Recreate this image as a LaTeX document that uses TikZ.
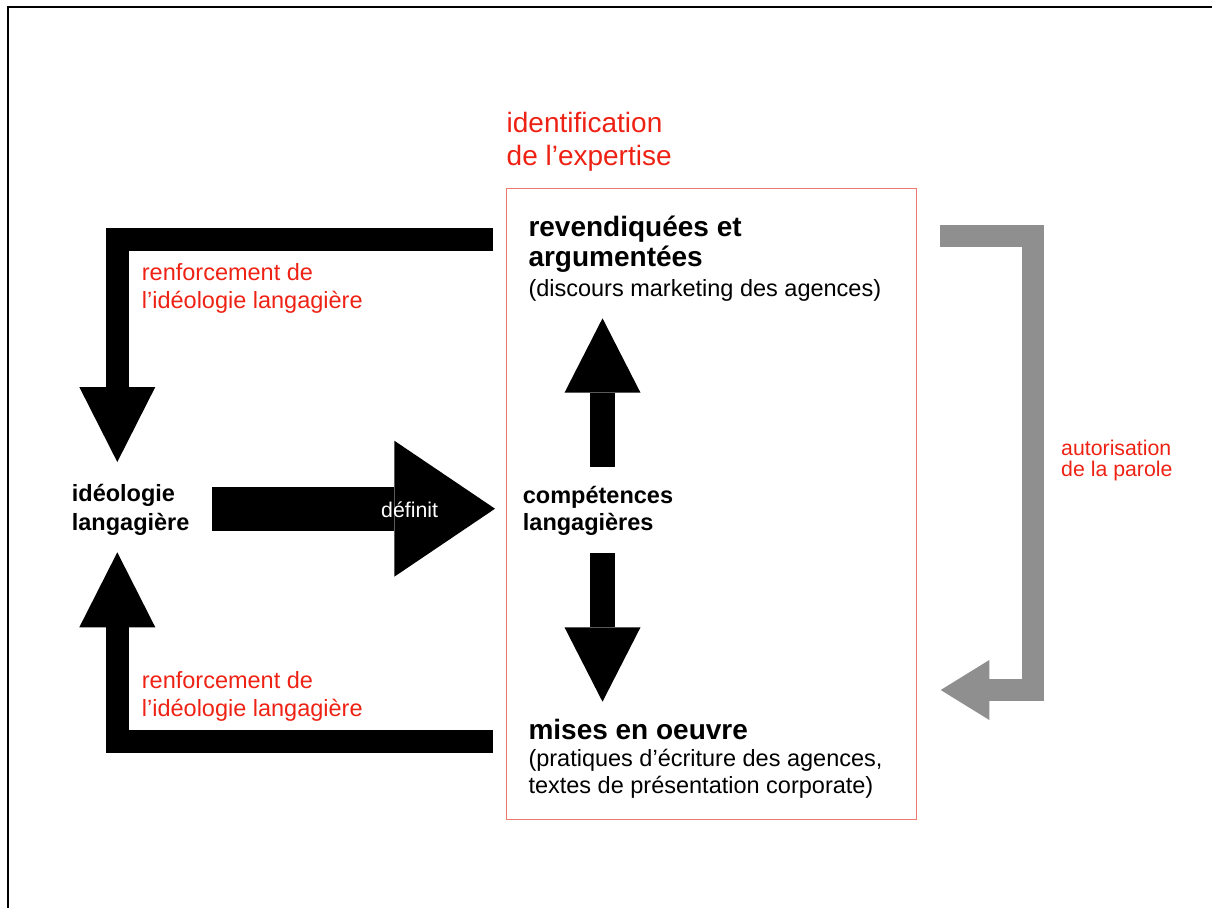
\documentclass[tikz,border=0pt]{standalone}
\usepackage{fontspec}
\setmainfont{Liberation Sans}
\usetikzlibrary{arrows.meta}
\definecolor{redtxt}{RGB}{238,34,20}
\definecolor{boxred}{RGB}{240,120,110}
\definecolor{grayarr}{RGB}{143,143,143}
\newcommand\vlines[2]{\vtop{\baselineskip=#1\lineskiplimit=-100pt\lineskip=0pt #2}}
\tikzset{
  lbl/.style={inner sep=0pt, anchor=base west},
  redlbl/.style={lbl, text=redtxt},
  bigfont/.style={font=\fontsize{28}{33}\selectfont},
  midfont/.style={font=\fontsize{23.5}{28}\selectfont},
  smallfont/.style={font=\fontsize{21.3}{22}\selectfont},
  blkarrow/.style={draw=black, line width=23pt, -{Triangle[length=75pt,width=76pt,line width=0pt]}},
  vertarrow/.style={draw=black, line width=25pt, -{Triangle[length=74.4pt,width=76pt,line width=0pt]}},
}
\begin{document}
\begin{tikzpicture}[x=1pt,y=-1pt]
\useasboundingbox (0,0) rectangle (1212,908);
% frame
\draw[line width=1.6pt] (8,908) -- (8,6.7) -- (1212,6.7);
% red box
\node[draw=boxred, line width=1.1pt, minimum width=410pt, minimum height=631pt, anchor=north west, inner sep=0pt] (box) at (505.7,188.3) {};
% labels
\node[redlbl, bigfont] (ident) at (506.5,132) {\vlines{33pt}{\hbox{identification}\hbox{de l’expertise}}};
\node[lbl, bigfont, font=\bfseries\fontsize{28}{33}\selectfont] (rev) at (528.3,236.7) {\vlines{30pt}{\hbox{revendiquées et}\hbox{argumentées}}};
\node[lbl, midfont] (disc) at (528.3,296.3) {(discours marketing des agences)};
\node[lbl, font=\bfseries\fontsize{23.5}{28}\selectfont] (comp) at (522.7,503) {\vlines{27pt}{\hbox{compétences}\hbox{langagières}}};
\node[lbl, font=\bfseries\fontsize{23.5}{28}\selectfont] (ideo) at (71.7,501.7) {\vlines{28.3pt}{\hbox{idéologie}\hbox{langagière}}};
\node[lbl, font=\bfseries\fontsize{28}{33}\selectfont] (mises) at (528.3,739.3) {mises en oeuvre};
\node[lbl, midfont] (prat) at (528.3,766) {\vlines{27.3pt}{\hbox{(pratiques d’écriture des agences,}\hbox{textes de présentation corporate)}}};
\node[redlbl, midfont] (renfA) at (141.7,280) {\vlines{28.3pt}{\hbox{renforcement de}\hbox{l’idéologie langagière}}};
\node[redlbl, midfont] (renfB) at (141.7,688.3) {\vlines{28.3pt}{\hbox{renforcement de}\hbox{l’idéologie langagière}}};
\node[redlbl, smallfont] (autor) at (1061,455) {\vlines{21.7pt}{\hbox{autorisation}\hbox{de la parole}}};
% connector end points
\coordinate (tlS) at (492.7,239.2);
\coordinate (tlE) at (117.3,462);
\coordinate (blS) at (492.7,741.7);
\coordinate (blE) at (117.3,552.3);
\coordinate (defS) at (212.3,508.7);
\coordinate (defE) at (495,508.7);
\coordinate (upS) at (602.5,466.7);
\coordinate (upE) at (602.5,318.3);
\coordinate (dnS) at (602.5,553.3);
\coordinate (dnE) at (602.5,701.7);
\coordinate (grS) at (940,236);
\coordinate (grC) at (1033.2,690);
\coordinate (grE) at (940.7,690);
% connectors
\draw[blkarrow] (tlS) -| (tlE);
\draw[blkarrow] (blS) -| (blE);
\draw[draw=black, line width=44pt, -{Triangle[length=100.7pt,width=136pt,line width=0pt]}] (defS) -- (defE);
\draw[vertarrow] (upS) -- (upE);
\draw[vertarrow] (dnS) -- (dnE);
\draw[draw=grayarr, line width=22pt, -{Triangle[length=48.6pt,width=60pt,line width=0pt]}] (grS) -| (grC) -- (grE);
\node[lbl, text=white, smallfont] (def) at (381,517.3) {définit};
\end{tikzpicture}
\end{document}
